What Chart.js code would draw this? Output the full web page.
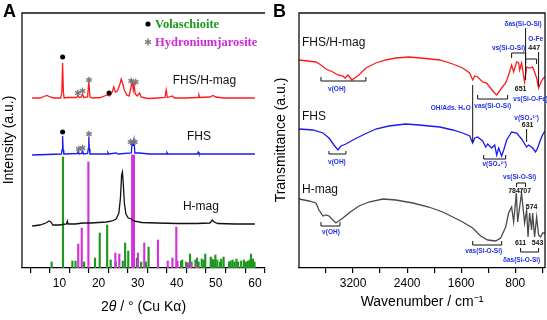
<!DOCTYPE html>
<html><head><meta charset="utf-8">
<script src="https://cdn.jsdelivr.net/npm/chart.js@4/dist/chart.umd.min.js"></script>
<style>
html,body{margin:0;padding:0;background:#fff;}
#wrap{position:relative;width:547px;height:320px;overflow:hidden;background:#fff;}
canvas{position:absolute;top:0;}
</style></head><body>
<div id="wrap">
<canvas id="ca" width="280" height="320" style="left:0px"></canvas>
<canvas id="cb" width="285" height="320" style="left:262px"></canvas>
</div>
<script>
// ---------- Panel A : XRD (2theta, intensity a.u.) ----------
const xrdFhsHmag = [[3,170],[5,170],[6.0,171.5],[6.8,172.5],[7.6,171],[8.5,170],[10.3,170],[10.6,176],[10.8,205],[11.0,176],[11.2,170],[12.0,170.5],[14.4,170.5],[14.7,173],[15.0,170.5],[15.6,171],[15.9,174],[16.2,170.5],[17.2,171],[17.5,187],[17.8,171],[18.5,170],[20.5,170.5],[21.5,172],[22.2,173],[22.8,172],[23.5,176],[23.9,181],[24.3,176],[24.8,177],[25.4,183],[25.8,189],[26.2,184],[26.6,178],[27.2,173],[27.8,172],[28.5,184],[28.7,186],[28.9,178],[29.1,183],[29.4,174],[29.9,172],[30.5,175],[30.9,171],[32,170],[33,169.5],[35,170],[37.0,170.5],[37.3,178],[37.6,170.5],[38.9,172],[39.4,170],[42,170],[45.5,170.5],[45.7,173],[45.9,170.5],[48.5,171],[49.3,172.5],[50.0,171],[52,170],[60,170]];
const xrdFhs = [[3,113],[10.5,114],[10.65,118],[10.8,132],[10.95,118],[11.1,114],[14.6,114.5],[14.8,117],[15.0,114],[15.7,114.5],[15.9,118],[16.1,114],[17.2,114.5],[17.35,119],[17.5,131],[17.65,119],[17.8,114],[22.2,114],[22.4,115.5],[22.6,114],[24.5,115],[25,114],[28.4,115],[28.6,128],[28.8,122],[29.05,128],[29.3,115],[30.5,115],[33,114],[37.3,114],[37.5,115.5],[37.7,114],[45.3,114],[45.5,116],[45.7,114],[60,114]];
const xrdHmag = [[3,42],[5,43],[6.5,45],[7.3,47],[7.8,46],[8.3,43],[10,43],[11.8,44],[12.0,47],[12.2,44],[14,44],[16,45],[18,45],[20,45.5],[22,46],[23.5,47],[24.5,49],[25.2,55],[25.6,70],[25.9,93],[26.1,96],[26.3,86],[26.6,65],[27.0,54],[27.6,50],[28.4,49],[29,47],[31,45.5],[35,45],[40,44.5],[45,44.5],[48.5,45],[49.1,48],[49.6,46],[50.5,44.5],[55,44],[60,44]];
const volaschioitePos = [8.0,10.9,13.3,14.1,16.3,19.1,20.3,22.2,23.1,24.4,26.2,26.8,27.6,29.8,30.9,32.1,32.8,41.1,41.4,42.4,43.1,43.4,43.8,44.8,45.2,45.6,46.4,46.9,47.3,48.7,49.1,49.5,49.9,50.4,51.1,51.4,52.0,53.4,53.8,54.3,54.8,55.3,55.7,56.5,57.2,57.7,58.2,58.7,59.0,59.5,59.9];
const volaschioiteH = [6,111,7,7,6,10,35,43,8,6,7,25,17,10,6,6,21,7,8,6,5,14,6,8,10,6,9,8,14,11,9,8,13,8,6,9,11,6,7,8,6,9,6,7,8,6,7,8,14,9,6];
const hydroniumPos = [14.8,15.7,17.4,24.3,25.3,28.6,29.05,30.1,31.7,35.2,37.7,38.9,39.9,40.2,42.8,43.6,45.0];
const hydroniumH = [24,40,106,15,14,113,113,15,25,28,7,10,41,7,5,5,4];
const ticksA = [5,10,15,20,25,30,35,40,45,50,55,60];

// ---------- Panel B : FTIR (wavenumber, transmittance a.u.) ----------
const ftirFhsHmag = [[4000,208],[3749,206],[3675,203],[3601,199],[3498,196],[3424,193],[3350,192],[3320,190],[3276,193],[3217,188],[3114,193],[3010,200],[2863,205],[2715,208],[2567,210],[2375,211],[2198,210],[1917,208],[1725,204],[1578,200],[1474,195],[1430,188],[1400,192],[1356,191],[1282,186],[1223,185],[1179,181],[1120,176],[1075,173],[1001,180],[942,185],[898,193],[854,203],[824,196],[780,206],[750,205],[735,198],[706,205],[662,186],[632,201],[588,200],[543,201],[514,196],[484,190],[455,180],[411,187],[381,190],[360,191]];
const ftirFhs = [[4000,139],[3793,138],[3645,135],[3557,130],[3483,123],[3424,118],[3380,122],[3306,124],[3202,128],[3055,133],[2863,139],[2671,142],[2419,144],[2227,143],[1917,141],[1725,138],[1578,135],[1474,132],[1430,125],[1400,130],[1356,131],[1282,127],[1238,121],[1208,124],[1149,120],[1104,123],[1075,113],[1045,120],[1001,112],[971,118],[927,128],[854,136],[780,135],[706,129],[632,121],[602,123],[543,120],[499,116],[470,120],[411,131],[381,135],[360,137]];
const ftirHmag = [[4000,69],[3852,67],[3749,65],[3705,58],[3645,52],[3601,53],[3557,52],[3453,45],[3350,50],[3261,55],[3114,62],[2966,66],[2759,69],[2567,68],[2316,65],[2080,61],[1873,56],[1725,51],[1578,46],[1430,40],[1312,32],[1208,28],[1090,27],[1016,30],[942,41],[898,55],[854,61],[824,46],[784,75],[765,46],[735,61],[707,75],[662,45],[632,58],[611,31],[588,55],[558,38],[543,55],[514,31],[484,51],[455,33],[425,31],[396,35],[360,35]];
const ticksB = [400,800,1200,1600,2000,2400,2800,3200,3600];

const F = 'Liberation Sans, Arial, sans-serif';
Chart.defaults.font.family = F;
Chart.defaults.color = '#000';

function txt(ctx,s,x,y,font,color,align,base){ctx.save();ctx.font=font;ctx.fillStyle=color;ctx.textAlign=align||'center';ctx.textBaseline=base||'middle';ctx.fillText(s,x,y);ctx.restore();}
function vtxt(ctx,s,x,y,font){ctx.save();ctx.translate(x,y);ctx.rotate(-Math.PI/2);ctx.font=font;ctx.fillStyle='#000';ctx.textAlign='center';ctx.textBaseline='middle';ctx.fillText(s,0,0);ctx.restore();}
function star(ctx,x,y,r,color){ctx.save();ctx.strokeStyle=color;ctx.lineWidth=1.4;ctx.beginPath();for(let i=0;i<3;i++){const a=Math.PI/2+i*Math.PI/3;ctx.moveTo(x-r*Math.cos(a),y-r*Math.sin(a));ctx.lineTo(x+r*Math.cos(a),y+r*Math.sin(a));}ctx.stroke();ctx.restore();}
function dot(ctx,x,y,r){ctx.save();ctx.fillStyle='#000';ctx.beginPath();ctx.arc(x,y,r,0,Math.PI*2);ctx.fill();ctx.restore();}
function poly(ctx,pts,w){ctx.save();ctx.strokeStyle='#111';ctx.lineWidth=w||1;ctx.beginPath();pts.forEach((p,i)=>i?ctx.lineTo(p[0],p[1]):ctx.moveTo(p[0],p[1]));ctx.stroke();ctx.restore();}

function xAxis(min,max,ticks,reverse,labelEvery){
  return {type:'linear',min:min,max:max,reverse:reverse,
    afterBuildTicks:s=>{s.ticks=ticks.map(v=>({value:v}));},
    afterFit:s=>{s.height=52;},
    grid:{display:true,drawOnChartArea:false,drawTicks:true,tickLength:5,color:'#000',lineWidth:1.2},
    border:{display:true,color:'#000',width:1.3},
    ticks:{color:'#000',font:{size:12},padding:3,maxRotation:0,autoSkip:false,
      callback:v=>(v%labelEvery===0?String(v):'')}};
}
const lineDs=(arr,color)=>({data:arr.map(p=>({x:p[0],y:p[1]})),borderColor:color,borderWidth:1.3,pointRadius:0,tension:0,fill:false,order:1});

// ---- annotations A (data coordinates) ----
const curveLabelsA = [['FHS/H-mag',47.1,187],['FHS',45.7,131],['H-mag',46.2,61]];
const dotsA = [[10.8,211],[22.7,175],[10.8,136]];
const starsA = [[14.7,175],[15.9,177],[17.55,188],[28.35,187],[29.5,186],[14.95,119],[15.9,120],[17.55,134],[28.2,126],[29.3,126]];

const annA = {id:'annA',afterDraw(chart){
  const {ctx,chartArea:a,scales:{x,y}}=chart;
  poly(ctx,[[a.left,a.bottom],[a.left,a.top],[a.right,a.top]],1.3);
  curveLabelsA.forEach(l=>txt(ctx,l[0],x.getPixelForValue(l[1]),y.getPixelForValue(l[2]),'12px '+F,'#111'));
  dotsA.forEach(d=>dot(ctx,x.getPixelForValue(d[0]),y.getPixelForValue(d[1]),2.5));
  starsA.forEach(s=>star(ctx,x.getPixelForValue(s[0]),y.getPixelForValue(s[1]),3.2,'#7a7a7a'));
  // legend
  dot(ctx,148,24,2.6); txt(ctx,'Volaschioite',155,24.5,'bold 12.5px Liberation Serif, serif','#169a16','left');
  star(ctx,148,42,3.4,'#7a7a7a'); txt(ctx,'Hydroniumjarosite',155,42.5,'bold 12.5px Liberation Serif, serif','#d02ad8','left');
  // panel letter
  txt(ctx,'A',3,17,'bold 18px '+F,'#000','left','alphabetic');
  // y title
  vtxt(ctx,'Intensity (a.u.)',9,140,'14px '+F);
  // x title with italic theta
  const parts=[['2','14px '+F],['\u03B8','italic 14px '+F],[' / \u00B0 (Cu K\u03B1)','14px '+F]];
  let w=0; parts.forEach(p=>{ctx.font=p[1];w+=ctx.measureText(p[0]).width;});
  let cx=(a.left+a.right)/2-w/2;
  parts.forEach(p=>{txt(ctx,p[0],cx,307,p[1],'#000','left');ctx.font=p[1];cx+=ctx.measureText(p[0]).width;});
}};

new Chart(document.getElementById('ca'),{
  type:'line',
  data:{datasets:[
    lineDs(xrdFhsHmag,'#ff1a1a'),
    lineDs(xrdFhs,'#1a1aee'),
    lineDs(xrdHmag,'#111111'),
    {type:'bar',data:hydroniumPos.map((v,i)=>({x:v,y:hydroniumH[i]})),backgroundColor:'#d233da',barThickness:1.5,grouped:false,order:4},
    {type:'bar',data:volaschioitePos.map((v,i)=>({x:v,y:volaschioiteH[i]})),backgroundColor:'#1f961f',barThickness:1.5,grouped:false,order:5}
  ]},
  options:{responsive:false,animation:false,events:[],
    layout:{padding:{left:22,right:15,top:13,bottom:0}},
    plugins:{legend:{display:false},tooltip:{enabled:false}},
    scales:{x:xAxis(3,60,ticksA,false,10),y:{display:false,min:0,max:255}}},
  plugins:[annA]
});

// ---- annotations B (data coordinates: wavenumber, a.u.) ----
const BL='#2030e8';
const curveLabelsB = [['FHS/H-mag',3956,225],['FHS',3956,151],['H-mag',3956,78]];
const bandLabelsB = [['v(OH)',3439,179],['v(OH)',3439,106],['v(OH)',3527,36],['OH/Ads. H\u2082O',1755,160],['vas(Si-O-Si)',1134,162],['vs(Si-O-Si)',900,220],['\u03B4as(Si-O-Si)',684,244],['O-Fe',499,229],['vs(Si-O-Fe)',573,169],['v(SO\u2084\u00B2\u207B)',632,150],['v(SO\u2084\u00B2\u207B)',1104,104],['vs(Si-O-Si)',735,91],['\u03B4as(Si-O-Si)',706,8],['vas(Si-O-Si)',1267,17]];
const peakLabelsB = [['447',520,220],['651',721,179],['631',617,143],['784',818,77],['707',652,77],['574',558,61],['611',721,25],['543',470,25]];
// brackets: [wn1, wn2, yLine, yEnd]
const bracketsB = [[3675,3010,187,191],[3557,3306,114,117],[3675,3394,42,46],[1356,913,169,173],[854,647,215,210],[647,484,209,204],[1267,942,109,113],[780,647,85,81],[721,455,16,20],[1430,1001,23,27]];
// vertical guide lines: [wn, y1, y2]
const guidesB = [[1430,183,126],[647,240,188],[455,216,182],[632,139,126]];

const annB = {id:'annB',afterDraw(chart){
  const {ctx,chartArea:a,scales:{x,y}}=chart;
  poly(ctx,[[a.left,a.bottom],[a.left,a.top],[a.right,a.top],[a.right,a.bottom]],1.3);
  const X=v=>x.getPixelForValue(v), Y=v=>y.getPixelForValue(v);
  curveLabelsB.forEach(l=>txt(ctx,l[0],X(l[1]),Y(l[2]),'12px '+F,'#111','left'));
  bracketsB.forEach(b=>poly(ctx,[[X(b[0]),Y(b[3])],[X(b[0]),Y(b[2])],[X(b[1]),Y(b[2])],[X(b[1]),Y(b[3])]],1));
  guidesB.forEach(g=>poly(ctx,[[X(g[0]),Y(g[1])],[X(g[0]),Y(g[2])]],1));
  bandLabelsB.forEach(l=>txt(ctx,l[0],X(l[1]),Y(l[2]),'bold 6.5px '+F,BL));
  peakLabelsB.forEach(l=>txt(ctx,l[0],X(l[1]),Y(l[2]),'bold 7px '+F,'#111'));
  txt(ctx,'B',11,17,'bold 18px '+F,'#000','left','alphabetic');
  vtxt(ctx,'Transmittance (a.u.)',19,140,'14px '+F);
}};

new Chart(document.getElementById('cb'),{
  type:'line',
  data:{datasets:[
    lineDs(ftirFhsHmag,'#ff1a1a'),
    lineDs(ftirFhs,'#1a1aee'),
    lineDs(ftirHmag,'#4a4a4a')
  ]},
  options:{responsive:false,animation:false,events:[],
    layout:{padding:{left:37,right:2,top:13,bottom:0}},
    plugins:{legend:{display:false},tooltip:{enabled:false}},
    scales:{x:Object.assign(xAxis(360,4000,ticksB,true,800),{title:{display:true,text:'Wavenumber / cm\u207B\u00B9',font:{size:14},color:'#000',padding:{top:0,bottom:9}}}),
            y:{display:false,min:0,max:255}}},
  plugins:[annB]
});
</script>
</body></html>
